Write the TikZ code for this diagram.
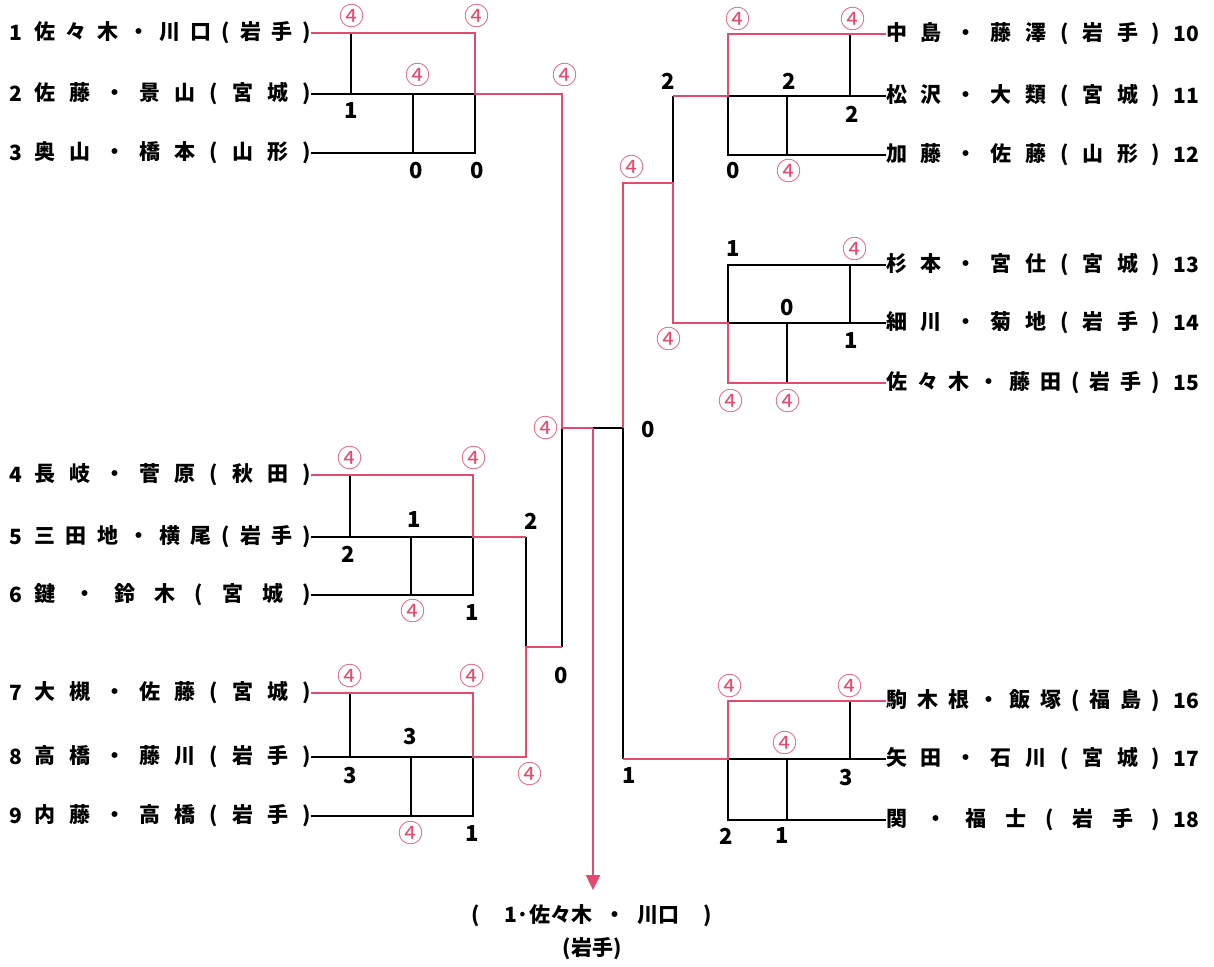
\documentclass[tikz,border=0pt]{standalone}
\usepackage{fontspec}
\setmainfont{Noto Sans CJK JP}
\usetikzlibrary{arrows.meta}
\definecolor{winred}{RGB}{228,74,110}
\newcommand\nmfont{\fontsize{21}{24}\selectfont\bfseries}
\newcommand\scfont{\fontsize{22}{24}\selectfont\bfseries}
\newcommand\cfont{\fontsize{25}{26}\selectfont}
\newcommand\lname[1]{\makebox[276pt][s]{#1}}
\newcommand\rname[1]{\makebox[274pt][s]{#1}}
\begin{document}
\begin{tikzpicture}[x=1pt,y=-1pt,
  blk/.style={line width=2.8pt,black},
  wred/.style={line width=2.4pt,winred},
  nm/.style={font=\nmfont,inner sep=0pt},
  sc/.style={font=\scfont,inner sep=0pt},
  cf/.style={font=\cfont,text=winred,inner sep=0pt}]
\useasboundingbox (0,0) rectangle (1214,966);
\fill[white] (0,0) rectangle (1214,966);
% ---------- team labels, left ----------
\node[nm,anchor=east] (n1) at (311,33) {\lname{佐 々 木 ・ 川 口 ( 岩 手 )}};
\node[nm,anchor=east] (n2) at (311,94) {\lname{佐 藤 ・ 景 山 ( 宮 城 )}};
\node[nm,anchor=east] (n3) at (311,153) {\lname{奥 山 ・ 橋 本 ( 山 形 )}};
\node[nm,anchor=east] (n4) at (311,475) {\lname{長 岐 ・ 菅 原 ( 秋 田 )}};
\node[nm,anchor=east] (n5) at (311,537) {\lname{三 田 地 ・ 横 尾 ( 岩 手 )}};
\node[nm,anchor=east] (n6) at (311,595) {\lname{鍵 ・ 鈴 木 ( 宮 城 )}};
\node[nm,anchor=east] (n7) at (311,693) {\lname{大 槻 ・ 佐 藤 ( 宮 城 )}};
\node[nm,anchor=east] (n8) at (311,757) {\lname{高 橋 ・ 藤 川 ( 岩 手 )}};
\node[nm,anchor=east] (n9) at (311,816) {\lname{内 藤 ・ 高 橋 ( 岩 手 )}};
\foreach \i/\y in {1/33,2/94,3/153,4/475,5/537,6/595,7/693,8/757,9/816}
  \node[nm] (num\i) at (16,\y) {\i};
% ---------- team labels, right ----------
\node[nm,anchor=west] (n10) at (886,34) {\rname{中 島 ・ 藤 澤 ( 岩 手 )}};
\node[nm,anchor=west] (n11) at (886,96) {\rname{松 沢 ・ 大 類 ( 宮 城 )}};
\node[nm,anchor=west] (n12) at (886,155) {\rname{加 藤 ・ 佐 藤 ( 山 形 )}};
\node[nm,anchor=west] (n13) at (886,265) {\rname{杉 本 ・ 宮 仕 ( 宮 城 )}};
\node[nm,anchor=west] (n14) at (886,323) {\rname{細 川 ・ 菊 地 ( 岩 手 )}};
\node[nm,anchor=west] (n15) at (886,383) {\rname{佐 々 木 ・ 藤 田 ( 岩 手 )}};
\node[nm,anchor=west] (n16) at (886,701) {\rname{駒 木 根 ・ 飯 塚 ( 福 島 )}};
\node[nm,anchor=west] (n17) at (886,759) {\rname{矢 田 ・ 石 川 ( 宮 城 )}};
\node[nm,anchor=west] (n18) at (886,820) {\rname{関 ・ 福 士 ( 岩 手 )}};
\foreach \i/\y in {10/34,11/96,12/155,13/265,14/323,15/383,16/701,17/759,18/820}
  \node[nm,anchor=west] (num\i) at (1173,\y) {\i};
% ---------- junction coordinates ----------
\coordinate (j1a) at (351,33);  \coordinate (j1c) at (475,33);
\coordinate (j2a) at (351,94);  \coordinate (j2b) at (413,94);  \coordinate (j2c) at (475,94);
\coordinate (j3b) at (413,153); \coordinate (j3c) at (475,153);
\coordinate (jL1) at (562,94);
\coordinate (j4a) at (350,475); \coordinate (j4c) at (473,475);
\coordinate (j5a) at (350,537); \coordinate (j5b) at (411,537); \coordinate (j5c) at (473,537);
\coordinate (j6b) at (411,595); \coordinate (j6c) at (473,595);
\coordinate (jL2) at (526,537);
\coordinate (j7a) at (350,693); \coordinate (j7c) at (473,693);
\coordinate (j8a) at (350,757); \coordinate (j8b) at (411,757); \coordinate (j8c) at (473,757);
\coordinate (j9b) at (411,816); \coordinate (j9c) at (473,816);
\coordinate (jL3) at (526,757);
\coordinate (jL23) at (526,647); \coordinate (jL23r) at (562,647);
\coordinate (fL) at (562,428); \coordinate (fM) at (593,428); \coordinate (fR) at (623,428);
\coordinate (fA) at (593,890);
\coordinate (k10r) at (850,34);  \coordinate (k10l) at (728,34);
\coordinate (k11r) at (850,96);  \coordinate (k11q) at (787,96);  \coordinate (k11l) at (728,96);
\coordinate (k12q) at (787,155); \coordinate (k12l) at (728,155);
\coordinate (jR1) at (673,96);
\coordinate (k13r) at (850,265); \coordinate (k13l) at (728,265);
\coordinate (k14r) at (850,323); \coordinate (k14q) at (787,323); \coordinate (k14l) at (728,323);
\coordinate (k15q) at (787,383); \coordinate (k15l) at (728,383);
\coordinate (jR2) at (673,323); \coordinate (jR12) at (673,183); \coordinate (jR12l) at (623,183);
\coordinate (k16r) at (850,701); \coordinate (k16l) at (728,701);
\coordinate (k17r) at (850,759); \coordinate (k17q) at (787,759); \coordinate (k17l) at (728,759);
\coordinate (k18q) at (787,820); \coordinate (k18l) at (728,820);
\coordinate (jR3) at (623,759);
% ---------- black lines ----------
\draw[blk] (j1a) -- (j2a);
\draw[blk] (n2.east) -- (j2c);
\draw[blk] (j2b) -- (j3b);
\draw[blk] (n3.east) -- (j3c) -- (j2c);
\draw[blk] (j4a) -- (j5a);
\draw[blk] (n5.east) -- (j5c);
\draw[blk] (j5b) -- (j6b);
\draw[blk] (n6.east) -- (j6c) -- (j5c);
\draw[blk] (j7a) -- (j8a);
\draw[blk] (n8.east) -- (j8c);
\draw[blk] (j8b) -- (j9b);
\draw[blk] (n9.east) -- (j9c) -- (j8c);
\draw[blk] (jL2) -- (jL23);
\draw[blk] (fL) -- (jL23r);
\draw[blk] (fM) -- (fR) -- (jR3);
\draw[blk] (k10r) -- (k11r);
\draw[blk] (n11.west) -- (k11l);
\draw[blk] (k11q) -- (k12q);
\draw[blk] (n12.west) -- (k12l) -- (k11l);
\draw[blk] (jR1) -- (jR12);
\draw[blk] (n13.west) -- (k13l) -- (k14l);
\draw[blk] (k13r) -- (k14r);
\draw[blk] (n14.west) -- (k14l);
\draw[blk] (k14q) -- (k15q);
\draw[blk] (k16r) -- (k17r);
\draw[blk] (n17.west) -- (k17l);
\draw[blk] (k17q) -- (k18q);
\draw[blk] (n18.west) -- (k18l) -- (k17l);
% ---------- winner (red) lines ----------
\draw[wred] (n1.east) -- (j1c) -- (j2c) -- (jL1) -- (fL) -- (fM);
\draw[wred,-{Triangle[width=14pt,length=15pt]}] (fM) -- (fA);
\draw[wred] (n4.east) -- (j4c) -- (j5c) -- (jL2);
\draw[wred] (n7.east) -- (j7c) -- (j8c) -- (jL3) -- (jL23) -- (jL23r);
\draw[wred] (n10.west) -- (k10l) -- (k11l) -- (jR1);
\draw[wred] (n15.west) -- (k15l) -- (k14l) -- (jR2) -- (jR12) -- (jR12l) -- (fR);
\draw[wred] (n16.west) -- (k16l) -- (k17l) -- (jR3);
% ---------- scores ----------
\foreach \nm/\x/\y in {a1/352/16,a2/477/16,a3/418/75,a4/565/75,
    b1/350/458,b2/474/458,b3/413/611,
    c1/350/676,c2/472/676,c3/411/833,c4/530/774,
    d1/546/428,
    e1/738/19,e2/853/19,e3/789/171,e4/632/167,
    g1/855/249,g2/669/339,g3/731/401,g4/788/401,
    h1/730/686,h2/850/686,h3/785/743}
  \node[cf] (r\nm) at (\x,\y) {④};
\foreach \nm/\x/\y/\v in {a1/351/111/1,a2/416/171/0,a3/477/171/0,
    b1/414/520/1,b2/348/554/2,b3/472/613/1,b4/531/521/2,
    c1/410/737/3,c2/350/776/3,c3/472/834/1,c4/561/676/0,
    d1/648/430/0,
    e1/668/81/2,e2/789/81/2,e3/852/114/2,e4/733/171/0,
    g1/733/249/1,g2/787/308/0,g3/851/341/1,
    h1/846/778/3,h2/629/776/1,h3/726/836/2,h4/782/836/1}
  \node[sc] (s\nm) at (\x,\y) {\v};
% ---------- champion ----------
\node[nm] (champ) at (592,916) {(\hspace{24pt}1·佐々木\hspace{12pt}・\hspace{12pt}川口\hspace{24pt})};
\node[nm] (champpref) at (592,949) {(岩手)};
\end{tikzpicture}
\end{document}
